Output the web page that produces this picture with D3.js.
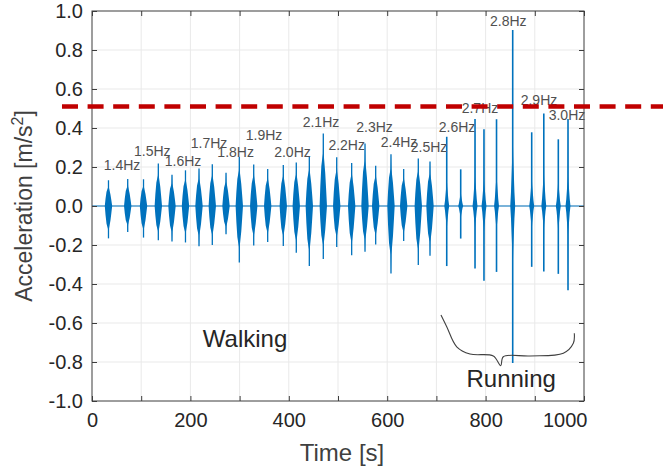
<!DOCTYPE html>
<html>
<head>
<meta charset="utf-8">
<script src="https://cdn.jsdelivr.net/npm/d3@7"></script>
<style>
  body { margin: 0; background: #fff; }
  svg { display: block; }
  text { font-family: "Liberation Sans", Arial, Helvetica, sans-serif; }
</style>
</head>
<body>
<svg id="chart" width="663" height="468"></svg>
<script>
// Footfall bursts: centre time [s], peak positive and negative acceleration [m/s^2]
const burstTime = [33.5, 72.6, 104.7, 134.8, 162.6, 190, 217.5, 244.5, 272.4, 299.4,
                   328.7, 357.1, 388.8, 415.2, 441.7, 470.1, 497.4, 527.8, 554.9, 576.6,
                   607.7, 633.5, 663.2, 687,
                   721, 749.4, 778.5, 796.7, 822.2, 855.1, 893.7, 918.3, 947.8, 967.5];
const burstMax = [0.132, 0.139, 0.137, 0.218, 0.16, 0.183, 0.192, 0.214, 0.171, 0.252,
                  0.213, 0.19, 0.21, 0.223, 0.254, 0.372, 0.25, 0.22, 0.32, 0.207,
                  0.265, 0.19, 0.244, 0.228,
                  0.355, 0.188, 0.446, 0.393, 0.445, 0.903, 0.378, 0.475, 0.342, 0.446];
const burstMin = [-0.166, -0.133, -0.162, -0.176, -0.182, -0.187, -0.207, -0.2, -0.145, -0.29,
                  -0.203, -0.185, -0.205, -0.24, -0.308, -0.272, -0.21, -0.252, -0.235, -0.198,
                  -0.346, -0.18, -0.303, -0.255,
                  -0.308, -0.167, -0.32, -0.383, -0.338, -0.805, -0.312, -0.336, -0.348, -0.432];
const burstActivity = ["walk", "walk", "walk", "walk", "walk", "walk", "walk", "walk", "walk", "walk",
                       "walk", "walk", "walk", "walk", "walk", "walk", "walk", "walk", "walk", "walk",
                       "walk", "walk", "walk", "walk",
                       "run", "run", "run", "run", "run", "run", "run", "run", "run", "run"];

// Pacing frequency annotations, anchored in data units (time, acceleration)
const freqLabels = ["1.4Hz", "1.5Hz", "1.6Hz", "1.7Hz", "1.8Hz", "1.9Hz", "2.0Hz", "2.1Hz", "2.2Hz",
                    "2.3Hz", "2.4Hz", "2.5Hz", "2.6Hz", "2.7Hz", "2.8Hz", "2.9Hz", "3.0Hz"];
const freqLabelTime = [61, 122.6, 185, 237.8, 292, 349.6, 407.5, 465.4, 517.7,
                       574.2, 624, 685, 741.9, 788.6, 846.1, 908.5, 965.4];
const freqLabelAcc = [0.187, 0.258, 0.205, 0.299, 0.253, 0.338, 0.251, 0.407, 0.287,
                      0.378, 0.301, 0.275, 0.381, 0.478, 0.925, 0.518, 0.441];

// Comfort limit
const thresholdAcc = 0.51;

// Axis ticks
const xTickValues = [0, 100, 200, 300, 400, 500, 600, 700, 800, 900, 1000];
const xTickLabels = ["0", "", "200", "", "400", "", "600", "", "800", "", "1000"];
const yTickValues = [-1.0, -0.8, -0.6, -0.4, -0.2, 0.0, 0.2, 0.4, 0.6, 0.8, 1.0];

// Brace under the running section, in data units
const braceTime = [709.3, 721, 741.3, 768.3, 815.7, 830.7, 836, 890.2, 958, 978.3, 980.3];
const braceAcc = [-0.559, -0.619, -0.722, -0.759, -0.769, -0.819, -0.773, -0.769, -0.755, -0.704, -0.653];

// Envelope outlines of one burst: [time offset s, fraction of peak]
const walkEnvelope = [[-7.5, 0], [-6, 0.28], [-4, 0.55], [-2, 0.66], [-0.8, 0.72], [0, 1],
                      [0.8, 0.72], [2, 0.62], [4, 0.45], [6, 0.2], [7.5, 0]];
const runEnvelope = [[-5, 0], [-3.5, 0.08], [-2, 0.2], [-1, 0.28], [-0.6, 0.34], [0, 1],
                     [0.6, 0.34], [1, 0.28], [2, 0.2], [3.5, 0.08], [5, 0]];

const svg = d3.select("#chart");
const margin = { left: 92, right: 79, top: 11, bottom: 67 };
const W = 663, H = 468;

const x = d3.scaleLinear().domain([0, 1000]).range([margin.left, W - margin.right]);
const y = d3.scaleLinear().domain([-1, 1]).range([H - margin.bottom, margin.top]);

const x0 = x.range()[0], x1 = x.range()[1];
const y0 = y.range()[0], y1 = y.range()[1];

// Grid
const grid = svg.append("g").attr("stroke", "#e9e9e9").attr("stroke-width", 1);
grid.selectAll("line.vx").data(xTickValues.slice(1, -1)).join("line")
  .attr("x1", d => x(d)).attr("x2", d => x(d)).attr("y1", y1).attr("y2", y0);
grid.selectAll("line.hy").data(yTickValues.slice(1, -1)).join("line")
  .attr("x1", x0).attr("x2", x1).attr("y1", d => y(d)).attr("y2", d => y(d));

// Signal: quiet baseline plus the footfall bursts
const sig = svg.append("g");
sig.append("line")
  .attr("x1", x(0)).attr("x2", x(1000)).attr("y1", y(0)).attr("y2", y(0))
  .attr("stroke", "#0072BD").attr("stroke-width", 1.2);

const bursts = burstTime.map((t, i) => ({
  t, max: burstMax[i], min: burstMin[i], kind: burstActivity[i]
}));

const area = d3.area().curve(d3.curveLinear);
sig.selectAll("path.burst").data(bursts).join("path")
  .attr("class", "burst")
  .attr("fill", "#0072BD")
  .attr("d", b => {
    const env = b.kind === "walk" ? walkEnvelope : runEnvelope;
    return area
      .x(e => x(b.t + e[0]))
      .y0(e => y(b.min * e[1]))
      .y1(e => y(b.max * e[1]))(env);
  });
sig.selectAll("line.spike").data(bursts).join("line")
  .attr("class", "spike")
  .attr("x1", b => x(b.t)).attr("x2", b => x(b.t))
  .attr("y1", b => y(b.min)).attr("y2", b => y(b.max))
  .attr("stroke", "#0072BD").attr("stroke-width", b => b.kind === "walk" ? 1.3 : 1.6);

// Axes box with inward ticks
const axisColor = "#3d3d3d";
const frame = svg.append("g");
frame.append("rect").attr("x", x0).attr("y", y1).attr("width", x1 - x0).attr("height", y0 - y1)
  .attr("fill", "none").attr("stroke", axisColor).attr("stroke-width", 1);

const tickLen = 5;
const xAxis = d3.axisBottom(x).tickValues(xTickValues).tickSizeInner(-tickLen).tickSizeOuter(0)
  .tickPadding(12).tickFormat((d, i) => xTickLabels[i]);
const gx = svg.append("g").attr("transform", `translate(0,${y0})`).call(xAxis);
gx.select(".domain").remove();
gx.selectAll(".tick line").attr("stroke", axisColor);
gx.selectAll(".tick text").attr("font-size", 20).attr("fill", "#262626")
  .attr("font-family", "Liberation Sans, Arial, sans-serif");
gx.selectAll(".tick text").filter(d => d === 1000).attr("text-anchor", "end").attr("dx", 3);

const xAxisTop = d3.axisTop(x).tickValues(xTickValues).tickSizeInner(-tickLen).tickSizeOuter(0).tickFormat("");
const gxt = svg.append("g").attr("transform", `translate(0,${y1})`).call(xAxisTop);
gxt.select(".domain").remove();
gxt.selectAll(".tick line").attr("stroke", axisColor);

const yAxis = d3.axisLeft(y).tickValues(yTickValues).tickSizeInner(-tickLen).tickSizeOuter(0)
  .tickPadding(9).tickFormat(d3.format(".1f"));
const gy = svg.append("g").attr("transform", `translate(${x0},0)`).call(yAxis);
gy.select(".domain").remove();
gy.selectAll(".tick line").attr("stroke", axisColor);
gy.selectAll(".tick text").attr("font-size", 20).attr("fill", "#262626")
  .attr("font-family", "Liberation Sans, Arial, sans-serif")
  .text(d => d3.format(".1f")(d).replace("\u2212", "-"));

const yAxisRight = d3.axisRight(y).tickValues(yTickValues).tickSizeInner(-tickLen).tickSizeOuter(0).tickFormat("");
const gyr = svg.append("g").attr("transform", `translate(${x1},0)`).call(yAxisRight);
gyr.select(".domain").remove();
gyr.selectAll(".tick line").attr("stroke", axisColor);

// Axis titles
svg.append("text")
  .attr("x", (x0 + x1) / 2 + 4).attr("y", 461)
  .attr("text-anchor", "middle").attr("font-size", 24).attr("fill", "#404040")
  .text("Time [s]");

const yTitle = svg.append("text")
  .attr("transform", `translate(32,${(y0 + y1) / 2}) rotate(-90)`)
  .attr("text-anchor", "middle").attr("font-size", 23).attr("fill", "#404040");
yTitle.append("tspan").text("Acceleration [m/s");
yTitle.append("tspan").attr("font-size", 16).attr("dy", -9).text("2");
yTitle.append("tspan").attr("dy", 9).text("]");

// Frequency labels
svg.append("g").selectAll("text").data(freqLabels).join("text")
  .attr("x", (d, i) => x(freqLabelTime[i]))
  .attr("y", (d, i) => y(freqLabelAcc[i]))
  .attr("text-anchor", "middle").attr("font-size", 14).attr("fill", "#505050")
  .text(d => d);

// Comfort limit line, running past the axes
svg.append("line")
  .attr("x1", x(-61)).attr("x2", W)
  .attr("y1", y(thresholdAcc)).attr("y2", y(thresholdAcc))
  .attr("stroke", "#c00000").attr("stroke-width", 4.5)
  .attr("stroke-dasharray", "16 9.6");

// Activity annotations
svg.append("text").attr("x", x(311)).attr("y", 347)
  .attr("text-anchor", "middle").attr("font-size", 24).attr("fill", "#262626")
  .text("Walking");
svg.append("text").attr("x", x(852)).attr("y", 387)
  .attr("text-anchor", "middle").attr("font-size", 24).attr("fill", "#262626")
  .text("Running");

const braceLine = d3.line().curve(d3.curveCatmullRom.alpha(0.5))
  .x((d, i) => x(braceTime[i])).y((d, i) => y(braceAcc[i]));
svg.append("path").attr("d", braceLine(braceTime))
  .attr("fill", "none").attr("stroke", "#404040").attr("stroke-width", 1.1);
</script>
</body>
</html>
